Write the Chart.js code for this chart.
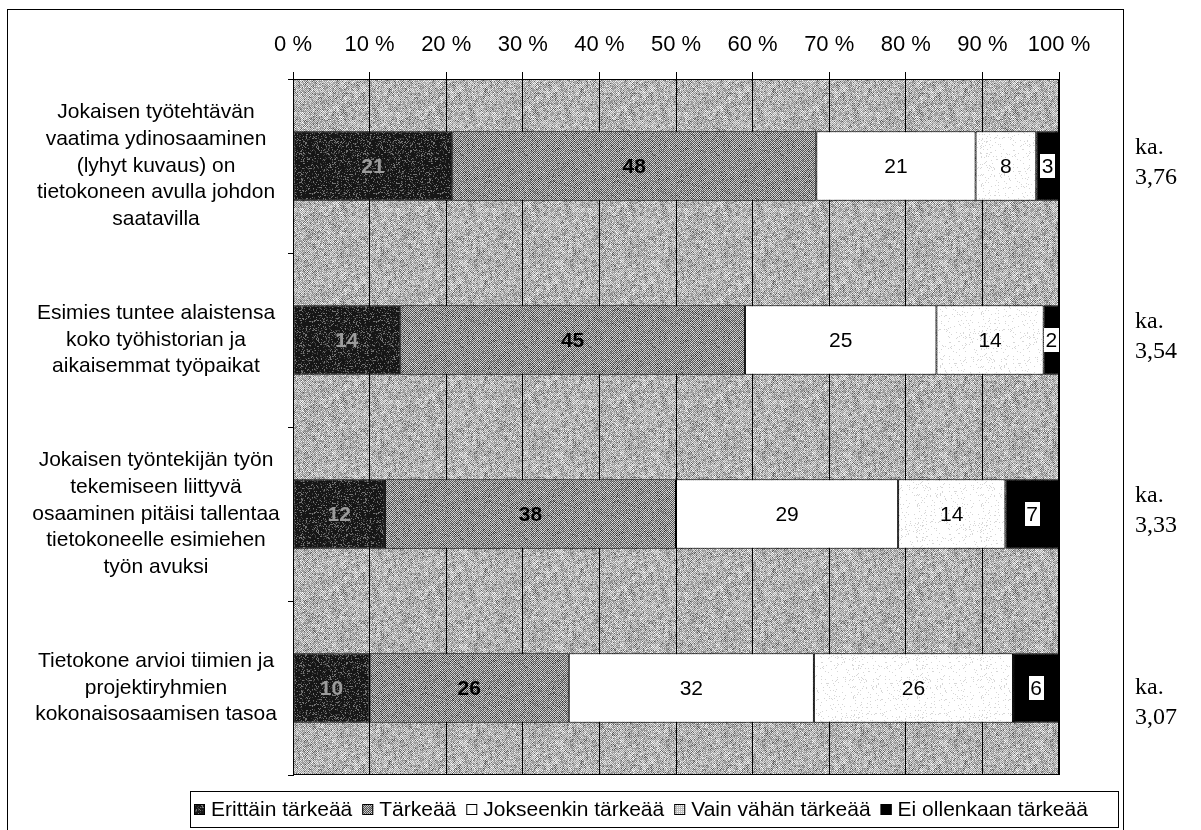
<!DOCTYPE html>
<html lang="fi">
<head>
<meta charset="utf-8">
<title>Osaamisen hallinta – tärkeys</title>
<script src="https://cdn.jsdelivr.net/npm/chart.js@4.4.1/dist/chart.umd.min.js"></script>
<style>
  html, body { margin: 0; padding: 0; background: #fff; }
  #wrap { width: 1201px; height: 830px; position: relative; }
  canvas { display: block; }
</style>
</head>
<body>
<div id="wrap"><canvas id="c" width="1201" height="830"></canvas></div>
<script>
// Väittämät (rivit kaaviossa), jaettuna riveihin
const categories = [
  ['Jokaisen työtehtävän', 'vaatima ydinosaaminen', '(lyhyt kuvaus) on', 'tietokoneen avulla johdon', 'saatavilla'],
  ['Esimies tuntee alaistensa', 'koko työhistorian ja', 'aikaisemmat työpaikat'],
  ['Jokaisen työntekijän työn', 'tekemiseen liittyvä', 'osaaminen pitäisi tallentaa', 'tietokoneelle esimiehen', 'työn avuksi'],
  ['Tietokone arvioi tiimien ja', 'projektiryhmien', 'kokonaisosaamisen tasoa']
];

// Vastausjakaumat (%) vastausvaihtoehdoittain
const erittainTarkeaa   = [21, 14, 12, 10];
const tarkeaa           = [48, 45, 38, 26];
const jokseenkinTarkeaa = [21, 25, 29, 32];
const vainVahanTarkeaa  = [8, 14, 14, 26];
const eiOllenkaan       = [3, 2, 7, 6];

// Keskiarvot rivien oikealla puolella
const averages = ['3,76', '3,54', '3,33', '3,07'];

const seriesNames = ['Erittäin tärkeää', 'Tärkeää', 'Jokseenkin tärkeää', 'Vain vähän tärkeää', 'Ei ollenkaan tärkeää'];
const seriesValues = [erittainTarkeaa, tarkeaa, jokseenkinTarkeaa, vainVahanTarkeaa, eiOllenkaan];

const SANS = '"Liberation Sans", Arial, Helvetica, sans-serif';
const SERIF = '"Liberation Serif", "Times New Roman", serif';

// keskiarvotekstien pystysiirto rivin keskilinjasta (px)
const avgNudge = [-12, -12, -12, 6];

const canvas = document.getElementById('c');
const ctx = canvas.getContext('2d');

// --- rasterikuviot (halftone-tyylinen pinta) ---
function hash(x, y, s) {
  let h = (Math.imul(x, 374761393) + Math.imul(y, 668265263) + Math.imul(s, 1442695041)) | 0;
  h = Math.imul(h ^ (h >>> 13), 1274126177);
  h ^= h >>> 16;
  return (h >>> 0) / 4294967296;
}
function makePattern(size, shade) {
  const c = document.createElement('canvas');
  c.width = c.height = size;
  const g = c.getContext('2d');
  const img = g.createImageData(size, size);
  for (let y = 0; y < size; y++) {
    for (let x = 0; x < size; x++) {
      const v = Math.max(0, Math.min(255, Math.round(shade(x, y))));
      const i = (y * size + x) * 4;
      img.data[i] = img.data[i + 1] = img.data[i + 2] = v;
      img.data[i + 3] = 255;
    }
  }
  g.putImageData(img, 0, 0);
  return ctx.createPattern(c, 'repeat');
}

const plotBgPattern = makePattern(96, (x, y) => {
  let v = ((x + y) & 1) ? 150 : 218;
  const n = hash(x, y, 1);
  if (n < 0.2) v -= 55; else if (n > 0.86) v += 30;
  v += hash(x >> 2, y >> 2, 2) * 30 - 15;
  return v;
});
const darkPattern = makePattern(64, (x, y) => {
  const n = hash(x, y, 3);
  if (n < 0.14) return 115;
  if (n < 0.26) return 62;
  return 22;
});
const midPattern = makePattern(64, (x, y) => {
  let v = ((x + y) & 1) ? 85 : 205;
  const n = hash(x, y, 4);
  if (n < 0.1) v -= 45; else if (n > 0.94) v += 30;
  return v;
});
const lightPattern = makePattern(64, (x, y) => (hash(x, y, 5) < 0.07 ? 215 : 255));
const gridSwatchPattern = makePattern(4, (x, y) => ((x % 2 === 0 || y % 2 === 0) ? 190 : 250));

const fills = [darkPattern, midPattern, '#ffffff', lightPattern, '#000000'];
const legendFills = [darkPattern, midPattern, '#ffffff', gridSwatchPattern, '#000000'];

// Arvotekstien tyylit sarjoittain
const labelStyles = [
  { color: '#9c9c9c', weight: 'bold', box: false },
  { color: '#000000', weight: 'bold', box: false },
  { color: '#000000', weight: 'normal', box: false },
  { color: '#000000', weight: 'normal', box: false },
  { color: '#000000', weight: 'normal', box: true }
];

// 100 % -pinottu: kunkin rivin osuudet suhteutetaan rivin summaan
const rowTotals = categories.map((_, j) => seriesValues.reduce((s, arr) => s + arr[j], 0));

const datasets = seriesNames.map((name, i) => ({
  label: name,
  data: seriesValues[i].map((v, j) => v / rowTotals[j] * 100),
  rawValues: seriesValues[i],
  backgroundColor: fills[i],
  legendFill: legendFills[i],
  labelStyle: labelStyles[i],
  borderColor: '#000',
  borderWidth: 1,
  borderSkipped: false,
  barPercentage: 0.4,
  categoryPercentage: 1.0
}));

// Luokka-akselin tekstien keskitys
const LABEL_FONT = 21;
ctx.font = LABEL_FONT + 'px ' + SANS;
let widest = 0;
categories.forEach(lines => lines.forEach(l => { widest = Math.max(widest, ctx.measureText(l).width); }));
const Y_AXIS_W = 293, Y_TICK_LEN = 5, LABEL_CENTER = 156;
const yTickPadding = Math.max(0, Y_AXIS_W - Y_TICK_LEN - LABEL_CENTER - widest / 2);

const plotBackground = {
  id: 'plotBackground',
  beforeDraw(chart) {
    const a = chart.chartArea, g = chart.ctx;
    g.save();
    g.fillStyle = plotBgPattern;
    g.fillRect(a.left, a.top, a.right - a.left, a.bottom - a.top);
    g.restore();
  }
};

const segmentLabels = {
  id: 'segmentLabels',
  afterDatasetsDraw(chart) {
    const g = chart.ctx, a = chart.chartArea;
    g.save();
    // kuva-alueen reunaviiva
    g.strokeStyle = '#000';
    g.lineWidth = 1;
    g.strokeRect(Math.round(a.left) + 0.5, Math.round(a.top) + 0.5,
                 Math.round(a.right - a.left) - 1, Math.round(a.bottom - a.top) - 1);
    chart.data.datasets.forEach((ds, i) => {
      const meta = chart.getDatasetMeta(i);
      const st = ds.labelStyle;
      g.font = st.weight + ' ' + LABEL_FONT + 'px ' + SANS;
      g.textAlign = 'center';
      g.textBaseline = 'middle';
      meta.data.forEach((bar, j) => {
        const p = bar.getProps(['x', 'y', 'base'], true);
        const cx = (p.x + p.base) / 2;
        const txt = String(ds.rawValues[j]);
        if (st.box) {
          const w = g.measureText(txt).width + 3;
          g.fillStyle = '#fff';
          g.fillRect(Math.round(cx - w / 2), Math.round(p.y - 12), Math.round(w), 24);
        }
        g.fillStyle = st.color;
        g.fillText(txt, cx, p.y + 1);
      });
    });
    g.restore();
  }
};

const sideTextAndLegend = {
  id: 'sideTextAndLegend',
  afterDraw(chart) {
    const g = chart.ctx;
    g.save();
    // ulkokehys
    g.strokeStyle = '#000';
    g.lineWidth = 1;
    g.strokeRect(7.5, 9.5, 1116, 822);

    // keskiarvot
    const yScale = chart.scales.y;
    g.fillStyle = '#000';
    g.font = '24px ' + SERIF;
    g.textAlign = 'left';
    g.textBaseline = 'alphabetic';
    averages.forEach((v, j) => {
      const cy = yScale.getPixelForValue(j) + avgNudge[j];
      g.fillText('ka.', 1135, cy);
      g.fillText(v, 1135, cy + 30);
    });

    // selite
    g.strokeRect(190.5, 791.5, 928, 36);
    g.font = '21px ' + SANS;
    g.textBaseline = 'middle';
    let x = 194;
    const ty = 810;
    chart.data.datasets.forEach(ds => {
      g.fillStyle = ds.legendFill;
      g.fillRect(x, ty - 6, 11, 11);
      g.strokeStyle = '#000';
      g.strokeRect(x + 0.5, ty - 5.5, 10, 10);
      x += 17;
      g.fillStyle = '#000';
      g.fillText(ds.label, x, ty);
      x += g.measureText(ds.label).width + 10;
    });
    g.restore();
  }
};

new Chart(canvas, {
  type: 'bar',
  data: { labels: categories, datasets },
  plugins: [plotBackground, segmentLabels, sideTextAndLegend],
  options: {
    responsive: false,
    animation: false,
    indexAxis: 'y',
    layout: { padding: { left: 0, right: 142, top: 0, bottom: 55 } },
    plugins: { legend: { display: false }, tooltip: { enabled: false } },
    scales: {
      x: {
        position: 'top',
        stacked: true,
        min: 0,
        max: 100,
        ticks: {
          stepSize: 10,
          autoSkip: false,
          maxRotation: 0,
          callback: v => v + ' %',
          color: '#000',
          font: { family: SANS, size: 22 },
          padding: 14
        },
        grid: { color: '#000', lineWidth: 1, tickLength: 7, drawTicks: true },
        border: { display: true, color: '#000' },
        afterFit: s => { s.height = 79; s.paddingLeft = 0; s.paddingRight = 0; }
      },
      y: {
        stacked: true,
        ticks: {
          color: '#000',
          font: { family: SANS, size: LABEL_FONT, lineHeight: 1.27 },
          crossAlign: 'center',
          padding: yTickPadding,
          autoSkip: false
        },
        grid: { offset: true, drawOnChartArea: false, tickLength: Y_TICK_LEN, color: '#000' },
        border: { display: true, color: '#000' },
        afterFit: s => { s.width = Y_AXIS_W; s.paddingTop = 0; s.paddingBottom = 0; }
      }
    }
  }
});
</script>
</body>
</html>
